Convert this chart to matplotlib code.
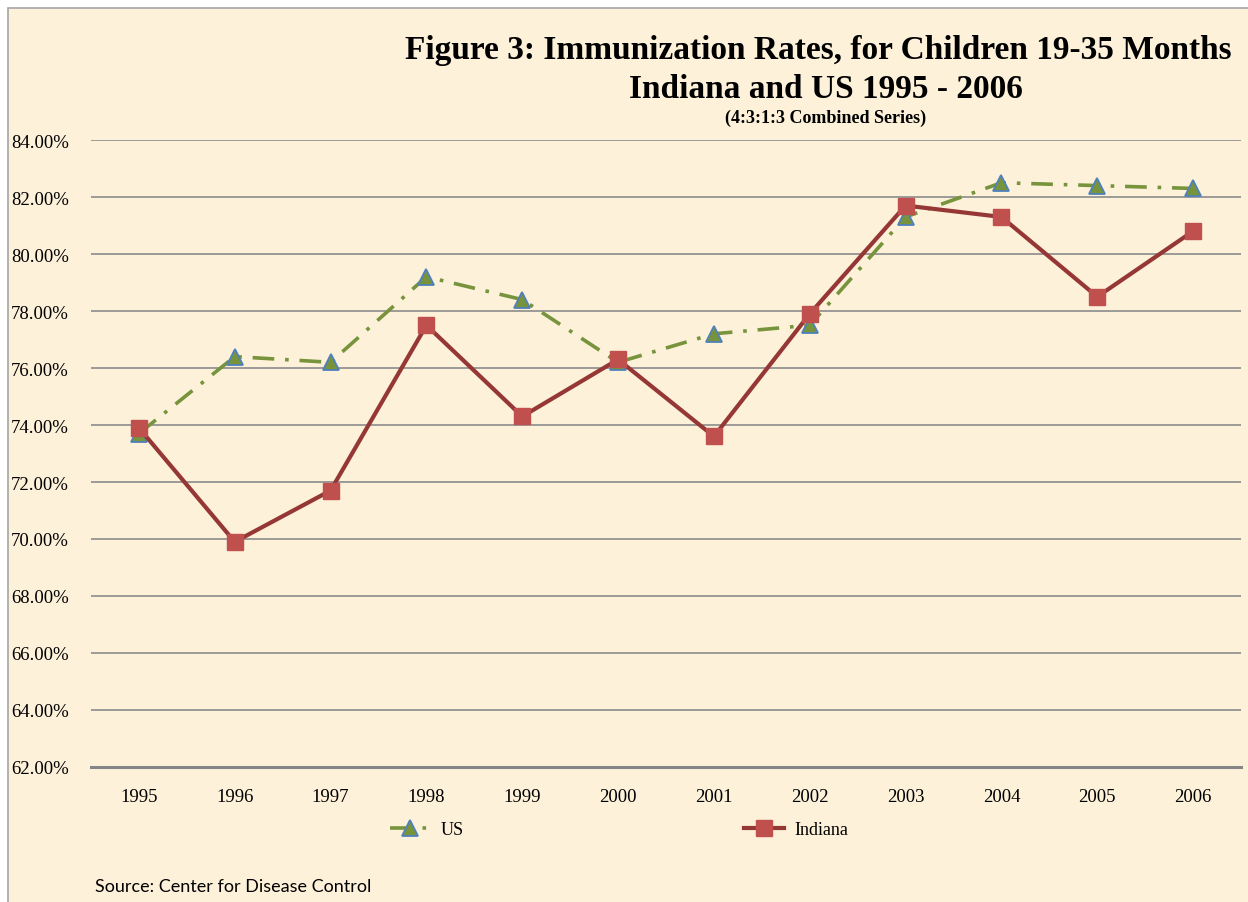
import matplotlib.pyplot as plt
from matplotlib.patches import Rectangle

years = ['1995', '1996', '1997', '1998', '1999', '2000',
         '2001', '2002', '2003', '2004', '2005', '2006']
us = [73.7, 76.4, 76.2, 79.2, 78.4, 76.2, 77.2, 77.5, 81.3, 82.5, 82.4, 82.3]
indiana = [73.9, 69.9, 71.7, 77.5, 74.3, 76.3, 73.6, 77.9, 81.7, 81.3, 78.5, 80.8]
yticks = [62, 64, 66, 68, 70, 72, 74, 76, 78, 80, 82, 84]

W, H = 1248, 903
BG = '#FDF1DA'
SERIF = 'Liberation Serif'


def run():
    fig = plt.figure(figsize=(W / 100, H / 100), dpi=100)
    fig.patch.set_facecolor('white')

    # chart area box (cream, gray border on top/left)
    fig.patches.append(Rectangle((8 / W, -0.05), 1.1, 1 - 9 / H + 0.05,
                                 transform=fig.transFigure, facecolor=BG,
                                 edgecolor='#A6A6A6', lw=1.2, zorder=-10))

    ax = fig.add_axes([91 / W, 1 - 768 / H, 1150 / W, 627 / H])
    ax.set_facecolor('none')
    ax.set_zorder(2)

    x = range(len(years))
    ax.plot(x, us, color='#77933C', ls=(0, (6, 3, 1, 3)), lw=2.6,
            marker='^', ms=11, mfc='#77933C', mec='#4F81BD', mew=1.3,
            label='US', zorder=3)
    ax.plot(x, indiana, color='#953735', ls='-', lw=3.0,
            marker='s', ms=11, mfc='#C0504D', mec='#C0504D',
            label='Indiana', zorder=4)

    ax.set_xlim(-0.5, len(years) - 0.5)
    ax.set_ylim(62, 84)
    ax.set_yticks(yticks)
    ax.set_yticklabels([f'{v:.2f}%' for v in yticks], fontfamily=SERIF, fontsize=13.5)
    ax.set_xticks(list(x))
    ax.set_xticklabels(years, fontfamily=SERIF, fontsize=13.5)
    ax.tick_params(length=0, pad=15)
    ax.tick_params(axis='y', pad=16)
    ax.grid(axis='y', color='#8C8C8C', lw=1.2)
    ax.set_axisbelow(True)
    for s in ['top', 'right', 'left']:
        ax.spines[s].set_visible(False)
    ax.spines['bottom'].set_color('#868686')
    ax.spines['bottom'].set_linewidth(2.2)

    fig.text(818 / W, 1 - 50 / H,
             'Figure 3: Immunization Rates, for Children 19-35 Months',
             ha='center', va='center', fontfamily=SERIF, fontweight='bold', fontsize=24)
    fig.text(826 / W, 1 - 89 / H, 'Indiana and US 1995 - 2006',
             ha='center', va='center', fontfamily=SERIF, fontweight='bold', fontsize=24)
    fig.text(826 / W, 1 - 118 / H, '(4:3:1:3 Combined Series)',
             ha='center', va='center', fontfamily=SERIF, fontweight='bold', fontsize=13)

    fig.legend(loc='center left', bbox_to_anchor=(374 / W, 1 - 831 / H),
               ncol=2, frameon=False, columnspacing=15.5, handlelength=2.2,
               handletextpad=0.6, prop={'family': SERIF, 'size': 13})

    fig.text(95 / W, 1 - 887 / H, 'Source: Center for Disease Control',
             ha='left', va='center', fontfamily='Lato', fontsize=13)

    fig.savefig('out.png', dpi=100, facecolor='white')


if __name__ == "__main__":
    run()
